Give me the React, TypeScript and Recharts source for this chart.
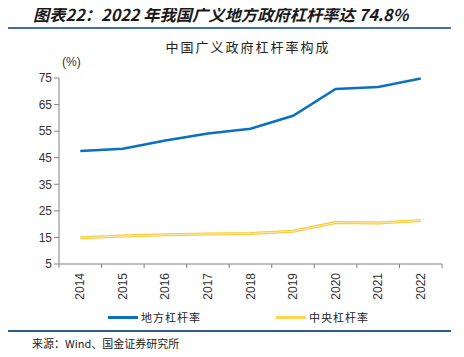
import { LineChart, Line, XAxis, YAxis } from 'recharts';

const years = ['2014', '2015', '2016', '2017', '2018', '2019', '2020', '2021', '2022'];
const localLeverage = [47.5, 48.4, 51.5, 54.1, 55.9, 60.8, 70.9, 71.6, 74.8];
const centralLeverage = [14.9, 15.5, 16.0, 16.3, 16.5, 17.3, 20.6, 20.4, 21.4];
const yTicks = [5, 15, 25, 35, 45, 55, 65, 75];

const data = years.map((year, i) => ({
  year,
  local: localLeverage[i],
  central: centralLeverage[i],
}));

const cjk = '"Noto Sans CJK SC", sans-serif';
const latin = 'Arial, "Liberation Sans", sans-serif';

// half of one category slot, so tick marks sit between the years like in the source
const half = (464 - 29 - 30 - 22) / years.length / 2;

const YearTick = ({ x, y, payload, index }: any) => (
  <g>
    <line x1={x - half} x2={x - half} y1={y} y2={y + 4} stroke="#808080" />
    {index === years.length - 1 && (
      <line x1={x + half} x2={x + half} y1={y} y2={y + 4} stroke="#808080" />
    )}
    <text
      x={0}
      y={0}
      transform={`translate(${x + 4},${y + 9}) rotate(-90)`}
      textAnchor="end"
      fontSize={12}
      fontFamily={latin}
      fill="#333"
    >
      {payload.value}
    </text>
  </g>
);

export default function App() {
  return (
    <div style={{ position: 'relative', width: 464, height: 357, background: '#fff', margin: -8 }}>
      <div
        style={{
          position: 'absolute',
          left: 33,
          top: 4,
          fontFamily: cjk,
          fontSize: 16.3,
          fontWeight: 700,
          fontStyle: 'italic',
          color: '#1a1a1a',
          whiteSpace: 'nowrap',
          lineHeight: '20px',
        }}
      >
        图表22：2022 年我国广义地方政府杠杆率达 74.8%
      </div>
      <div style={{ position: 'absolute', left: 0, top: 27, width: 451, height: 2, background: '#41719C' }} />
      <div
        style={{
          position: 'absolute',
          left: 0,
          width: 496,
          top: 39,
          textAlign: 'center',
          fontFamily: cjk,
          fontSize: 13,
          letterSpacing: 2,
          color: '#222',
          lineHeight: '16px',
        }}
      >
        中国广义政府杠杆率构成
      </div>
      <div
        style={{ position: 'absolute', left: 62, top: 55, fontFamily: latin, fontSize: 12, color: '#333' }}
      >
        (%)
      </div>
      <div style={{ position: 'absolute', left: 0, top: 0 }}>
        <LineChart width={464} height={357} data={data} margin={{ top: 78, right: 22, bottom: 53, left: 29 }}>
          <XAxis
            dataKey="year"
            height={40}
            padding={{ left: half, right: half }}
            tick={<YearTick />}
            tickLine={false}
            tickSize={0}
            tickMargin={0}
            axisLine={{ stroke: '#808080' }}
            interval={0}
          />
          <YAxis
            domain={[5, 75]}
            ticks={yTicks}
            width={30}
            tickSize={5}
            tickLine={{ stroke: '#808080' }}
            axisLine={{ stroke: '#808080' }}
            tick={{ fontSize: 12, fontFamily: latin, fill: '#333' }}
            interval={0}
          />
          <Line
            dataKey="local"
            stroke="#0A70C0"
            strokeWidth={2.5}
            dot={false}
            isAnimationActive={false}
          />
          <Line
            dataKey="central"
            stroke="#F9C836"
            strokeWidth={3}
            dot={false}
            isAnimationActive={false}
          />
          <Line
            dataKey="central"
            stroke="#FFEDAE"
            strokeWidth={1}
            dot={false}
            isAnimationActive={false}
          />
        </LineChart>
      </div>
      <div style={{ position: 'absolute', left: 108, top: 316, width: 30, height: 3, background: '#0A70C0' }} />
      <div
        style={{ position: 'absolute', left: 141, top: 309, fontFamily: cjk, fontSize: 11, letterSpacing: 1, color: '#222', lineHeight: '16px' }}
      >
        地方杠杆率
      </div>
      <div style={{ position: 'absolute', left: 276, top: 316, width: 30, height: 3, background: '#FFD54F' }} />
      <div
        style={{ position: 'absolute', left: 309, top: 309, fontFamily: cjk, fontSize: 11, letterSpacing: 1, color: '#222', lineHeight: '16px' }}
      >
        中央杠杆率
      </div>
      <div style={{ position: 'absolute', left: 0, top: 330, width: 451, height: 2, background: '#2E5E86' }} />
      <div
        style={{ position: 'absolute', left: 32, top: 336, fontFamily: cjk, fontSize: 11, color: '#222', lineHeight: '15px', whiteSpace: 'nowrap' }}
      >
        来源：Wind、国金证券研究所
      </div>
    </div>
  );
}
